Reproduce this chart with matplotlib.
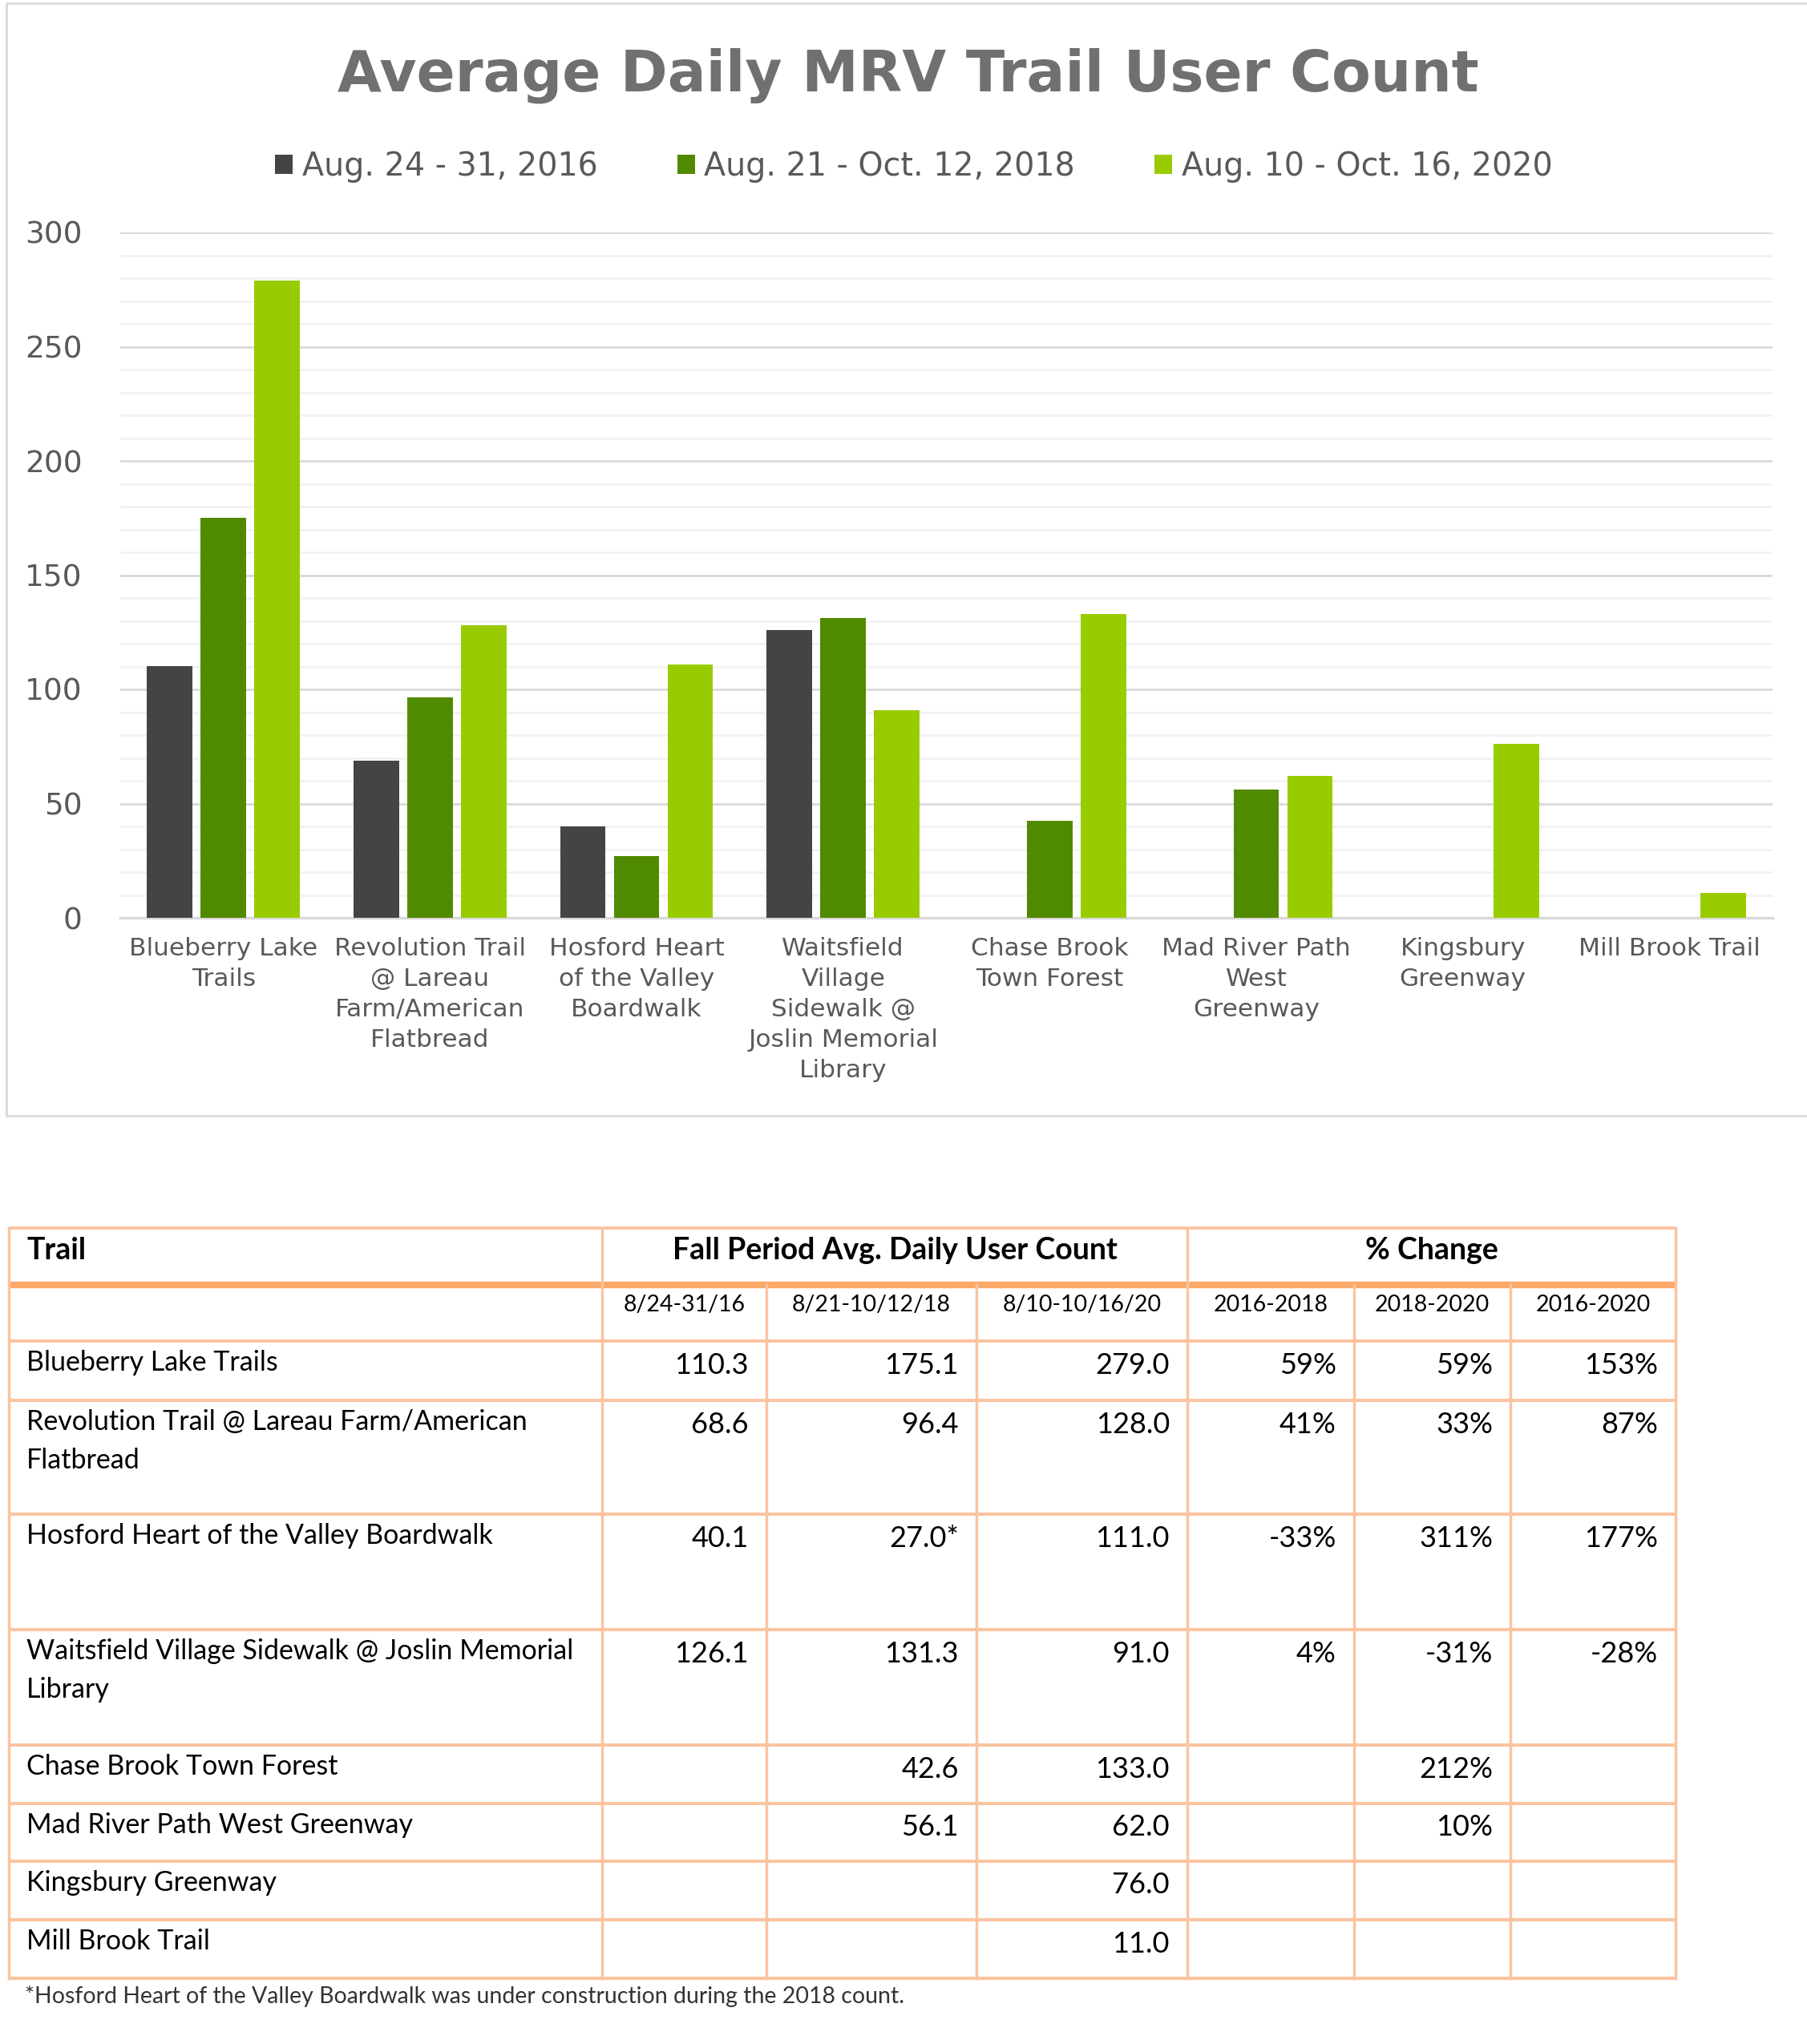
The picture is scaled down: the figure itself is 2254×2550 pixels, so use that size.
import matplotlib.pyplot as plt
import numpy as np
from matplotlib.patches import Rectangle
from matplotlib.ticker import MultipleLocator

W, H = 2254, 2550

trails = [
    "Blueberry Lake Trails",
    "Revolution Trail @ Lareau Farm/American Flatbread",
    "Hosford Heart of the Valley Boardwalk",
    "Waitsfield Village Sidewalk @ Joslin Memorial Library",
    "Chase Brook Town Forest",
    "Mad River Path West Greenway",
    "Kingsbury Greenway",
    "Mill Brook Trail",
]
axis_labels = [
    "Blueberry Lake\nTrails",
    "Revolution Trail\n@ Lareau\nFarm/American\nFlatbread",
    "Hosford Heart\nof the Valley\nBoardwalk",
    "Waitsfield\nVillage\nSidewalk @\nJoslin Memorial\nLibrary",
    "Chase Brook\nTown Forest",
    "Mad River Path\nWest\nGreenway",
    "Kingsbury\nGreenway",
    "Mill Brook Trail",
]
table_names = [
    "Blueberry Lake Trails",
    "Revolution Trail @ Lareau Farm/American\nFlatbread",
    "Hosford Heart of the Valley Boardwalk",
    "Waitsfield Village Sidewalk @ Joslin Memorial\nLibrary",
    "Chase Brook Town Forest",
    "Mad River Path West Greenway",
    "Kingsbury Greenway",
    "Mill Brook Trail",
]
nan = np.nan
counts_2016 = [110.3, 68.6, 40.1, 126.1, nan, nan, nan, nan]
counts_2018 = [175.1, 96.4, 27.0, 131.3, 42.6, 56.1, nan, nan]
counts_2020 = [279.0, 128.0, 111.0, 91.0, 133.0, 62.0, 76.0, 11.0]
footnote_2018 = [False, False, True, False, False, False, False, False]
pct_16_18 = [59, 41, -33, 4, None, None, None, None]
pct_18_20 = [59, 33, 311, -31, 212, 10, None, None]
pct_16_20 = [153, 87, 177, -28, None, None, None, None]

series_labels = ["Aug. 24 - 31, 2016", "Aug. 21 - Oct. 12, 2018", "Aug. 10 - Oct. 16, 2020"]
series_colors = ["#444444", "#508a00", "#99cc00"]
period_cols = ["8/24-31/16", "8/21-10/12/18", "8/10-10/16/20"]
change_cols = ["2016-2018", "2018-2020", "2016-2020"]

CHART_FONT = "DejaVu Sans"
TABLE_FONT = "Lato"
GRAY = "#595959"

fig = plt.figure(figsize=(W / 100, H / 100), dpi=100)

# pixel-space overlay for frame, table and footnote
bg = fig.add_axes([0, 0, 1, 1])
bg.set_xlim(0, W)
bg.set_ylim(H, 0)
bg.axis("off")
bg.add_patch(Rectangle((8, 4), W + 20, 1388, fill=False, edgecolor="#d9d9d9", lw=2))

# ---- bar chart ----
left, right, top, bottom = 150, 2211, 290, 1145
ax = fig.add_axes([left / W, 1 - bottom / H, (right - left) / W, (bottom - top) / H])
ax.set_facecolor("none")
x = np.arange(len(trails))
bw = 0.22
offsets = [-0.26, 0.0, 0.26]
handles = []
for vals, off, col, lab in zip([counts_2016, counts_2018, counts_2020], offsets, series_colors, series_labels):
    b = ax.bar(x + off, vals, bw, color=col, label=lab, zorder=3)
    handles.append(b)

ax.set_xlim(-0.5, len(trails) - 0.5)
ax.set_ylim(0, 300)
ax.yaxis.set_major_locator(MultipleLocator(50))
ax.yaxis.set_minor_locator(MultipleLocator(10))
ax.grid(axis="y", which="minor", color="#f2f2f2", lw=2, zorder=0)
ax.grid(axis="y", which="major", color="#d9d9d9", lw=2, zorder=1)
for s in ["top", "right", "left"]:
    ax.spines[s].set_visible(False)
ax.spines["bottom"].set_color("#d9d9d9")
ax.spines["bottom"].set_linewidth(2.5)
ax.set_xticks(x)
ax.set_xticklabels(axis_labels, fontsize=22.5, color=GRAY, family=CHART_FONT,
                   linespacing=1.4, va="top")
ax.tick_params(axis="x", length=0, pad=17)
ax.tick_params(axis="y", which="both", length=0, pad=34, labelsize=27, labelcolor=GRAY)
for t in ax.get_yticklabels():
    t.set_family(CHART_FONT)

fig.text(1133 / W, 1 - 94 / H, "Average Daily MRV Trail User Count", ha="center", va="center",
         fontsize=51, fontweight="bold", color="#707070", family=CHART_FONT)

fig.legend(handles=handles, labels=series_labels, loc="center",
           bbox_to_anchor=(1140 / W, 1 - 208 / H), ncol=3, frameon=False,
           labelcolor=GRAY, handlelength=0.55, handleheight=0.55,
           handletextpad=0.3, columnspacing=2.5, prop={"family": CHART_FONT, "size": 28.5})

# ---- table ----
thin = "#fac4a1"
thick = "#fca868"
cx = [11, 751, 956, 1218, 1481, 1689, 1884, 2090]
ry = [1532, 1603, 1673, 1747, 1889, 2033, 2177, 2250, 2322, 2395, 2468]
tfs = 24.5
head_fs = 27
num_fs = 26

# horizontal lines
for i, yv in enumerate(ry):
    if i == 1:
        continue
    bg.plot([cx[0], cx[-1]], [yv, yv], color=thin, lw=3, solid_capstyle="butt")
bg.plot([cx[0], cx[-1]], [ry[1], ry[1]], color=thick, lw=6, solid_capstyle="butt")
# vertical lines
for c in [cx[0], cx[1], cx[4], cx[-1]]:
    bg.plot([c, c], [ry[0], ry[-1]], color=thin, lw=2.5)
for c in [cx[2], cx[3], cx[5], cx[6]]:
    bg.plot([c, c], [ry[1], ry[-1]], color=thin, lw=2.5)

bg.text(cx[0] + 22, ry[0] + 28, "Trail", ha="left", va="center", fontsize=head_fs,
        fontweight="bold", family=TABLE_FONT, color="black")
bg.text((cx[1] + cx[4]) / 2, ry[0] + 28, "Fall Period Avg. Daily User Count", ha="center",
        va="center", fontsize=head_fs, fontweight="bold", family=TABLE_FONT, color="black")
bg.text((cx[4] + cx[7]) / 2, ry[0] + 28, "% Change", ha="center", va="center",
        fontsize=head_fs, fontweight="bold", family=TABLE_FONT, color="black")
for j, lab in enumerate(period_cols + change_cols):
    bg.text((cx[j + 1] + cx[j + 2]) / 2, ry[1] + 25, lab, ha="center", va="center",
            fontsize=20.5, family=TABLE_FONT, color="black")


def fmt_count(v, star=False):
    if np.isnan(v):
        return ""
    return f"{v:.1f}" + ("*" if star else "")


def fmt_pct(v):
    return "" if v is None else f"{v}%"


for i, name in enumerate(table_names):
    top_y = ry[i + 2]
    bg.text(cx[0] + 22, top_y + 11, name, ha="left", va="top", fontsize=tfs,
            family=TABLE_FONT, color="black", linespacing=1.6)
    cells = [
        fmt_count(counts_2016[i]),
        fmt_count(counts_2018[i], footnote_2018[i]),
        fmt_count(counts_2020[i]),
        fmt_pct(pct_16_18[i]),
        fmt_pct(pct_18_20[i]),
        fmt_pct(pct_16_20[i]),
    ]
    for j, s in enumerate(cells):
        bg.text(cx[j + 2] - 22, top_y + 30, s, ha="right", va="center", fontsize=num_fs,
                family=TABLE_FONT, color="black")

bg.text(cx[0] + 20, 2490, "*Hosford Heart of the Valley Boardwalk was under construction during the 2018 count.",
        ha="left", va="center", fontsize=20.5, family=TABLE_FONT, color="#333333")

fig.savefig("out.png", dpi=100)
